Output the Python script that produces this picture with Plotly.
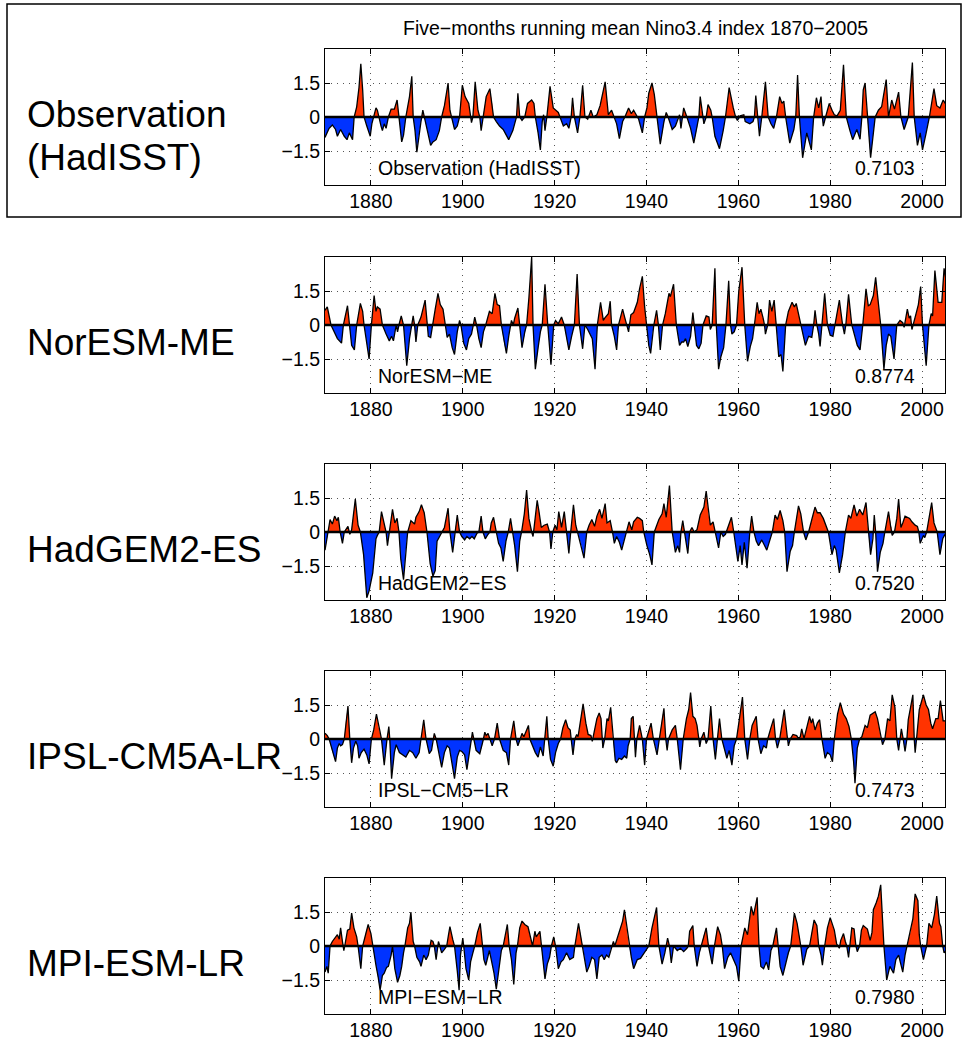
import plotly.graph_objects as go

# Five-month running mean Nino3.4 index, 1870-2005: (year, value) knots per dataset
hadisst = [
    (1870.0, -0.9), (1870.9, -0.5), (1871.6, -0.35), (1872.3, -0.55), (1872.7, -0.85), (1873.4, -0.55),
    (1874.2, -0.85), (1874.8, -1.0), (1875.3, -0.7), (1876.0, -1.0), (1876.35, 0), (1876.9, 0.45),
    (1877.4, 1.3), (1877.8, 2.35), (1878.2, 1.2), (1878.5, 0), (1879.1, -0.4), (1879.4, -0.55),
    (1879.85, -0.85), (1880.2, -0.3), (1880.6, 0), (1881.1, 0.4), (1881.4, 0.3), (1881.7, 0),
    (1882.2, -0.4), (1882.5, -0.6), (1882.9, -0.3), (1883.3, -0.5), (1883.8, 0), (1884.4, 0.35),
    (1885.1, 0.35), (1885.7, 0.75), (1886.1, 0), (1886.7, -1.1), (1887.1, -0.8), (1887.6, 0),
    (1888.4, 0.9), (1888.9, 1.8), (1889.2, 0), (1889.6, -0.6), (1890.0, -1.55), (1890.4, -0.85),
    (1890.9, -0.2), (1891.3, 0.3), (1891.6, 0), (1892.4, -0.7), (1893.0, -1.25), (1893.5, -1.1),
    (1894.2, -1.0), (1894.9, -0.6), (1895.4, 0), (1896.0, 0.5), (1896.8, 1.5), (1897.2, 0.3),
    (1897.5, 0), (1898.2, -0.55), (1898.8, -0.4), (1899.3, 0), (1899.9, 1.4), (1900.5, 0.9),
    (1901.3, 0.6), (1901.9, -0.25), (1902.2, 0), (1902.7, 1.55), (1903.3, 0.3), (1903.7, 0),
    (1904.0, -0.6), (1904.4, 0), (1905.1, 0.9), (1905.9, 1.25), (1906.4, 0.6), (1906.7, 0),
    (1907.3, -0.2), (1908.0, -0.4), (1908.8, -0.55), (1909.5, -0.8), (1910.0, -1.0), (1910.9, -0.6),
    (1911.7, 0), (1912.0, 1.05), (1912.4, 0), (1912.9, -0.15), (1913.5, 0), (1914.1, 0.6),
    (1915.0, 0.75), (1915.5, 0.6), (1915.8, 0), (1916.4, -0.7), (1916.9, -1.45), (1917.3, -0.2),
    (1917.6, 0.1), (1917.9, -0.6), (1918.3, 0), (1919.0, 1.35), (1919.7, 0.4), (1920.8, 0.2),
    (1921.2, 0), (1921.9, -0.4), (1922.6, -0.3), (1923.1, -0.5), (1923.6, 0), (1923.9, 0.85),
    (1924.3, 0), (1925.0, -0.7), (1925.5, 0), (1926.1, 1.4), (1926.6, 0), (1927.2, -0.1),
    (1927.9, 0.3), (1928.4, 0), (1929.2, 0.1), (1929.9, 0.5), (1931.0, 1.55), (1931.7, 0.1),
    (1932.4, 0.3), (1933.0, 0), (1933.5, -0.3), (1934.1, -0.95), (1934.8, -0.2), (1935.3, 0),
    (1936.1, 0.4), (1936.7, 0.15), (1937.2, 0.3), (1938.3, -0.1), (1939.1, -0.7), (1939.6, 0),
    (1940.1, 0.4), (1940.5, 1.05), (1941.2, 1.5), (1941.7, 1.0), (1942.3, 0), (1943.0, -1.2),
    (1943.8, -0.2), (1944.3, 0.2), (1944.7, 0), (1945.6, -0.55), (1946.3, -0.4), (1946.9, 0),
    (1947.2, 0.1), (1947.5, -0.5), (1948.1, 0.4), (1948.8, 0), (1949.6, -0.5), (1950.3, -1.15),
    (1951.0, -0.5), (1951.4, 0), (1951.7, 0.9), (1952.2, 0), (1952.5, -0.3), (1953.0, 0),
    (1953.4, 0.55), (1954.0, 0.3), (1954.3, 0), (1954.9, -0.85), (1955.9, -1.4), (1956.7, -0.6),
    (1957.2, 0), (1958.0, 1.3), (1958.6, 0.6), (1958.9, 0.4), (1959.4, 0), (1959.8, -0.15),
    (1960.4, 0.05), (1961.2, 0.1), (1961.5, -0.2), (1962.5, -0.3), (1963.2, -0.2), (1963.5, 0),
    (1963.8, 0.95), (1964.3, 0), (1964.6, -0.85), (1965.1, 0), (1965.9, 1.55), (1966.5, 0),
    (1967.1, -0.3), (1967.7, -0.5), (1968.3, 0), (1969.0, 0.9), (1969.5, 0.6), (1969.9, 0.7),
    (1970.3, 0), (1971.2, -1.15), (1972.1, -0.55), (1972.5, 0), (1972.9, 1.85), (1973.3, 0),
    (1974.0, -1.8), (1974.9, -0.7), (1975.9, -1.45), (1976.4, 0), (1977.0, 0.85), (1977.5, 0.4),
    (1978.0, 0.9), (1978.3, 0), (1978.5, -0.4), (1979.0, 0), (1979.8, 0.6), (1980.4, 0.3),
    (1980.9, 0.1), (1981.5, 0.05), (1982.2, 0.3), (1982.9, 2.3), (1983.5, 0), (1984.3, -0.6),
    (1984.9, -1.0), (1985.8, -0.55), (1986.5, -0.98), (1986.9, 0), (1987.2, 1.2), (1987.6, 1.5),
    (1988.1, 0), (1988.8, -1.8), (1989.8, 0), (1990.5, 0.3), (1991.2, 0.45), (1992.2, 1.65),
    (1992.7, 0), (1993.4, 0.75), (1994.0, 0.35), (1994.9, 1.1), (1995.4, 0), (1996.1, -0.55),
    (1997.0, 0), (1997.9, 2.4), (1998.3, 0), (1999.0, -1.25), (1999.6, -0.7), (2000.1, -1.45),
    (2000.9, -0.7), (2001.6, 0), (2002.6, 1.25), (2003.2, 0.5), (2003.9, 0.4), (2004.6, 0.75),
    (2005.2, 0.55),
]

noresm = [
    (1870.0, 0.65), (1870.5, 0.8), (1871.3, 0), (1872.0, -0.3), (1872.7, -0.6), (1873.6, -0.8),
    (1874.0, 0), (1874.9, 0.85), (1875.3, 0), (1875.8, -0.9), (1876.4, -1.1), (1876.9, 0),
    (1877.7, 0.95), (1878.2, 0.6), (1878.5, 0), (1879.1, -0.8), (1879.6, -1.5), (1880.1, 0),
    (1880.7, 1.3), (1881.1, 0.6), (1881.4, 0.8), (1882.0, 0.7), (1882.5, 0), (1883.3, -0.4),
    (1884.0, -0.7), (1884.5, -0.5), (1884.9, -0.7), (1885.5, 0), (1885.8, -0.3), (1886.1, 0),
    (1886.6, 0.4), (1887.1, 0), (1887.8, -1.8), (1888.4, -0.6), (1888.9, 0), (1889.2, 0.4),
    (1889.5, 0), (1889.8, -0.75), (1890.2, 0), (1890.9, 0.35), (1891.8, 1.1), (1892.2, 0.2),
    (1892.5, -0.5), (1893.0, -0.55), (1893.4, 0), (1894.0, 0.7), (1894.6, 1.4), (1895.1, 0.9),
    (1895.7, 0.7), (1896.2, 0), (1896.6, -0.55), (1897.1, -0.4), (1897.7, -1.0), (1898.2, -1.3),
    (1898.8, -0.3), (1899.3, 0.2), (1899.6, 0), (1900.2, -0.8), (1900.8, -1.1), (1901.3, -0.6),
    (1901.9, -0.4), (1902.3, 0), (1902.6, 0.35), (1903.0, 0), (1903.5, -0.6), (1904.0, -1.0),
    (1904.5, -0.3), (1905.0, 0), (1905.5, 0.4), (1905.8, 0.6), (1906.4, 0.5), (1907.0, 1.4),
    (1907.5, 0.9), (1908.0, 0.85), (1908.4, 0), (1909.0, -0.8), (1909.5, -1.25), (1910.0, -0.5),
    (1910.4, 0), (1910.6, 0.2), (1911.0, 0), (1911.3, 0.3), (1912.0, 0.75), (1912.4, 0),
    (1912.9, -1.0), (1913.5, -0.3), (1913.9, 0), (1914.4, 1.2), (1915.0, 3.0), (1915.3, 0),
    (1915.8, -1.95), (1916.4, -1.0), (1916.9, -0.3), (1917.3, 0), (1917.9, 1.8), (1918.5, 0),
    (1919.2, -1.75), (1919.8, 0), (1920.2, 0.2), (1920.8, 0.05), (1921.5, 0.35), (1922.1, 0),
    (1922.6, -0.6), (1923.1, -1.1), (1923.7, -0.5), (1924.3, 0), (1924.9, 2.25), (1925.4, 0),
    (1926.1, -1.05), (1926.6, 0), (1927.2, -0.2), (1927.7, -0.4), (1928.2, -0.6), (1928.8, -1.95),
    (1929.3, 0), (1930.0, 1.0), (1930.6, 0.2), (1930.9, 0.3), (1931.7, 0.5), (1932.1, 1.05),
    (1932.4, 0), (1933.0, -0.5), (1933.5, -1.1), (1933.9, 0), (1934.8, 0.7), (1935.3, 0.3),
    (1935.7, 0), (1936.1, -0.3), (1936.3, 0), (1936.6, 0.45), (1937.2, 0.55), (1938.0, 1.0),
    (1938.5, 1.6), (1939.1, 2.15), (1939.6, 0.8), (1940.0, 0), (1940.5, -0.9), (1940.9, -1.25),
    (1941.3, -0.4), (1941.6, 0), (1942.2, 0.65), (1942.6, 0), (1943.0, -1.1), (1943.5, 0),
    (1944.1, 0.5), (1944.9, 1.4), (1945.2, 1.25), (1945.9, 1.8), (1946.5, 0), (1947.2, -0.9),
    (1947.7, -0.75), (1948.1, -0.75), (1948.5, -0.6), (1949.0, -0.95), (1949.6, -0.5), (1949.9, 0),
    (1950.1, 0.55), (1950.4, 0), (1950.9, -0.9), (1951.4, -1.05), (1951.9, -0.8), (1952.3, 0),
    (1953.0, 0.4), (1953.6, 0.35), (1953.9, -0.2), (1954.3, 0), (1954.9, 2.5), (1955.2, 0),
    (1955.7, -1.95), (1956.2, -1.4), (1956.8, -1.0), (1957.3, 0), (1957.9, 1.95), (1958.3, 0),
    (1958.6, -0.4), (1959.1, -0.3), (1959.6, 0), (1960.1, 1.5), (1960.8, 2.55), (1961.4, 0),
    (1962.0, -1.6), (1962.6, -0.95), (1963.1, -0.6), (1963.5, 0), (1964.1, 1.0), (1964.5, 0.5),
    (1964.9, 0.7), (1965.4, 0.3), (1965.7, 0), (1965.9, -0.4), (1966.4, 0), (1966.8, 1.1),
    (1967.3, 0.6), (1967.8, 1.1), (1968.3, 0), (1968.8, -1.4), (1969.3, -1.3), (1969.7, -2.05),
    (1970.3, 0), (1970.9, 0.6), (1971.7, 1.0), (1972.2, 0.8), (1972.6, 0.95), (1973.1, 0.5),
    (1973.6, 0), (1974.6, -0.9), (1975.3, -0.5), (1976.0, -0.55), (1976.4, 0), (1976.7, 0.65),
    (1977.1, 0), (1977.5, -0.4), (1977.8, -0.95), (1978.2, 0), (1978.8, 1.4), (1979.4, 0),
    (1980.0, -0.45), (1980.6, -0.5), (1981.0, 0), (1982.0, 1.1), (1982.7, 0), (1983.1, -0.4),
    (1983.4, 0), (1984.0, 1.35), (1984.7, 0), (1985.4, -0.5), (1985.9, -0.9), (1986.5, -1.1),
    (1987.1, 0), (1987.8, 1.6), (1988.3, 0.85), (1988.7, 0.9), (1989.4, 1.3), (1989.9, 2.1),
    (1990.5, 0.8), (1991.0, 0), (1991.7, -1.95), (1992.2, -0.9), (1992.7, -0.4), (1993.2, -0.5),
    (1993.9, -1.5), (1994.5, 0), (1995.2, 0.2), (1995.8, 0.1), (1996.1, -0.1), (1996.5, 0.3),
    (1996.8, 0.7), (1997.2, 0.3), (1997.5, 0.4), (1997.8, -0.2), (1998.1, 0), (1998.7, 0.5),
    (1999.2, 0.9), (1999.7, 1.7), (2000.1, 0), (2000.9, -1.8), (2001.5, 0), (2002.0, 0.5),
    (2002.3, 0.4), (2002.8, 2.4), (2003.5, 1.0), (2004.3, 1.0), (2004.8, 2.5), (2005.2, 2.0),
]

hadgem = [
    (1870.0, -0.8), (1870.4, -0.3), (1870.7, 0), (1871.1, 0.55), (1871.6, 0.35), (1872.1, 0.7),
    (1872.6, 0.5), (1872.9, 0.65), (1873.3, 0), (1873.8, -0.5), (1874.2, 0), (1874.6, 0.15),
    (1875.0, 0.25), (1875.4, -0.1), (1875.8, 0.1), (1876.6, 1.45), (1877.2, 0.3), (1877.7, 0),
    (1878.4, -1.0), (1879.1, -2.9), (1879.6, -2.6), (1880.4, -1.8), (1880.7, -1.1), (1881.1, -0.3),
    (1881.4, -0.15), (1881.8, 0), (1882.3, 0.9), (1882.9, 0.4), (1883.3, 0), (1883.6, -0.6),
    (1884.0, 0), (1884.7, 1.0), (1885.2, 0.4), (1885.7, 0.6), (1886.1, 0), (1886.5, -1.2),
    (1887.1, -2.1), (1887.5, -1.0), (1888.0, 0), (1888.7, 0.5), (1889.5, 0.35), (1889.8, 0.65),
    (1890.5, 0.9), (1891.0, 1.2), (1891.6, 0.85), (1892.2, 0), (1892.9, -1.4), (1893.5, -1.95),
    (1894.0, -1.7), (1894.4, -0.4), (1894.9, -0.2), (1895.4, 0), (1896.0, 0.2), (1896.8, 1.05),
    (1897.2, 0), (1897.8, -0.9), (1898.3, 0), (1898.8, 0.75), (1899.3, 0), (1899.8, -0.2),
    (1900.4, -0.35), (1900.9, -0.2), (1901.5, -0.3), (1902.0, -0.2), (1902.5, -0.3), (1903.1, -0.05),
    (1903.5, 0), (1904.0, 0.7), (1904.4, 0), (1904.9, -0.3), (1905.5, -0.1), (1905.9, 0),
    (1906.2, 0.4), (1906.7, 0.65), (1907.3, 0), (1907.8, -0.5), (1908.3, -0.7), (1908.8, -1.3),
    (1909.4, -0.4), (1909.9, 0), (1910.4, 0.6), (1910.9, 0), (1911.3, -0.6), (1911.9, -1.75),
    (1912.4, -0.4), (1912.8, 0), (1913.4, 0.8), (1913.9, 1.85), (1914.4, 0.6), (1915.0, 0),
    (1915.3, -0.2), (1915.7, 0.5), (1916.2, 1.4), (1916.6, 0.9), (1917.1, 0.2), (1917.7, 0.3),
    (1918.4, 0.35), (1918.9, 0), (1919.2, -0.75), (1919.6, 0), (1920.1, 0.3), (1920.5, 0.1),
    (1920.9, 0.9), (1921.5, 0.2), (1922.1, 0.9), (1922.6, 0), (1923.1, -0.95), (1923.5, 0),
    (1924.1, 1.2), (1924.6, 0.3), (1925.0, 0), (1925.8, -0.6), (1926.4, -1.15), (1927.0, 0),
    (1927.5, 0.3), (1928.1, 0.55), (1928.7, 0.25), (1929.2, 0.7), (1929.8, 1.0), (1930.3, 0.6),
    (1931.0, 1.25), (1931.4, 0.4), (1932.1, 0.5), (1932.6, 0), (1933.0, -0.5), (1933.5, -0.2),
    (1934.1, -0.45), (1934.6, -0.8), (1935.2, -0.3), (1935.7, 0), (1936.2, 0.45), (1936.8, 0.1),
    (1937.2, 0.45), (1938.0, 0.65), (1938.5, 0.6), (1939.1, 0.5), (1939.4, 0), (1940.1, -0.6),
    (1940.7, -1.0), (1941.2, -1.45), (1941.7, 0), (1942.7, 0.55), (1943.4, 0.8), (1943.8, 1.25),
    (1944.3, 0.65), (1945.0, 2.05), (1945.4, 0.5), (1945.6, 0), (1946.3, -0.9), (1946.8, -0.6),
    (1947.2, -0.9), (1947.5, 0), (1947.9, 0.5), (1948.3, 0), (1949.0, -0.95), (1949.4, 0),
    (1949.9, 0.2), (1950.4, 0), (1951.0, 0.1), (1951.7, 0.75), (1952.5, 1.1), (1953.0, 1.8),
    (1953.5, 0.8), (1953.9, 0.3), (1954.5, 0.45), (1955.0, 0), (1955.7, -0.7), (1956.2, 0),
    (1956.7, -0.2), (1957.2, -0.1), (1957.7, 0.2), (1958.5, 0.65), (1959.0, 0), (1959.9, -1.3),
    (1960.4, -0.6), (1960.8, -1.45), (1961.3, -0.45), (1961.9, -1.6), (1962.5, 0), (1962.9, 0.7),
    (1963.4, 0), (1963.9, -0.4), (1964.4, -0.6), (1965.1, -0.35), (1965.6, -0.55), (1966.2, -0.8),
    (1966.8, -0.4), (1967.4, 0), (1968.0, 0.75), (1968.5, 0.55), (1969.1, 0.95), (1969.7, 0.5),
    (1970.1, 0), (1970.6, -1.75), (1971.3, -0.85), (1971.8, -0.6), (1972.2, 0), (1972.8, 0.8),
    (1973.1, 1.15), (1973.6, 0.8), (1974.2, 0), (1974.7, -0.35), (1975.3, 0), (1976.0, 0.55),
    (1976.7, 1.1), (1977.2, 0.85), (1977.8, 0.85), (1978.5, 0.6), (1979.1, 0.3), (1979.6, 0),
    (1980.4, -1.0), (1980.9, -0.6), (1981.3, -0.8), (1982.0, -1.8), (1982.7, -1.0), (1983.3, 0),
    (1984.0, 0.75), (1984.5, 0.6), (1985.2, 1.2), (1985.8, 0.7), (1986.4, 1.0), (1987.1, 0.75),
    (1987.8, 1.3), (1988.3, 0), (1988.8, -1.0), (1989.3, -0.3), (1989.6, 0.75), (1989.9, 0),
    (1990.3, -1.75), (1990.9, -0.9), (1991.5, -0.5), (1991.9, 0), (1992.7, 0.9), (1993.2, 0.2),
    (1993.5, -0.15), (1994.0, 0), (1994.5, 0.6), (1994.9, 1.45), (1995.4, 0.2), (1995.8, 0.4),
    (1996.3, 0.7), (1997.3, 0.6), (1997.8, 0.45), (1998.5, 0.3), (1999.0, 0.25), (1999.3, 0),
    (1999.6, -0.5), (2000.3, -0.15), (2000.6, -0.25), (2001.0, 0), (2001.6, 0.7), (2002.1, 1.3),
    (2002.6, 0.4), (2003.0, 0.1), (2003.3, 0), (2003.9, -1.0), (2004.5, -0.3), (2005.0, -0.1),
]

ipsl = [
    (1870.0, 0.25), (1870.5, 0.15), (1870.9, 0), (1871.6, -0.55), (1872.3, -1.0), (1872.7, -0.4),
    (1873.1, -0.2), (1873.4, -0.3), (1873.8, -0.25), (1874.2, 0), (1874.6, 0.9), (1875.0, 1.45),
    (1875.4, 0), (1875.8, -1.05), (1876.2, -0.4), (1876.7, -0.1), (1877.1, -0.3), (1877.4, -0.85),
    (1877.9, -0.6), (1878.5, -0.45), (1879.1, -0.7), (1879.6, -1.1), (1880.1, 0), (1880.6, 0.4),
    (1881.2, 1.1), (1881.7, 0.5), (1882.0, 0.3), (1882.3, 0), (1882.9, -1.15), (1883.5, 0),
    (1883.9, 0.55), (1884.1, 0), (1884.5, -1.75), (1885.1, -0.6), (1885.5, -0.25), (1886.2, -0.6),
    (1886.9, -0.7), (1887.6, -0.8), (1888.4, -0.5), (1889.1, -0.6), (1889.8, -0.85), (1890.5, -0.6),
    (1890.9, 0), (1891.5, 0.85), (1892.0, 0), (1892.7, -0.65), (1893.2, -0.5), (1893.5, 0),
    (1893.8, 0.25), (1894.2, 0), (1894.9, -0.7), (1895.4, -1.25), (1896.0, -0.6), (1896.6, -0.3),
    (1897.1, -0.4), (1897.6, -1.1), (1898.2, -1.75), (1898.8, -0.8), (1899.3, -0.5), (1899.8, -0.55),
    (1900.4, -0.7), (1900.9, -1.35), (1901.5, -0.5), (1901.9, 0), (1902.1, 0.3), (1902.4, 0),
    (1902.9, -0.5), (1903.7, -0.65), (1904.2, -0.3), (1904.5, 0), (1904.8, 0.3), (1905.1, 0.15),
    (1905.5, 0.25), (1905.9, 0), (1906.4, -0.3), (1906.9, 0), (1907.5, 0.7), (1908.0, 0),
    (1908.8, -0.5), (1909.5, -0.6), (1910.0, -1.15), (1910.4, 0), (1911.1, 0.8), (1911.6, 0),
    (1912.0, -0.3), (1912.5, 0), (1912.9, 0.25), (1913.3, 0.1), (1913.7, 0.3), (1914.3, 0.6),
    (1914.6, 0), (1915.2, -0.3), (1915.8, -0.6), (1916.4, -0.8), (1916.9, -0.35), (1917.5, -0.75),
    (1917.8, 0), (1918.3, 1.0), (1918.6, 0), (1919.1, -0.9), (1919.7, -1.2), (1920.2, -0.6),
    (1920.8, -0.2), (1921.3, 0), (1921.8, 0.5), (1922.4, 0.85), (1922.9, 0.5), (1923.4, 0.4),
    (1923.6, 0), (1924.0, -0.7), (1924.4, 0), (1924.8, 0.2), (1925.1, 0.1), (1925.7, 0.9),
    (1926.2, 1.55), (1926.8, 0.7), (1927.3, 0.2), (1927.9, 0.15), (1928.2, -0.1), (1928.6, 0.3),
    (1929.2, 0.9), (1929.7, 1.15), (1930.1, 0.9), (1930.5, -0.4), (1930.9, 0), (1931.4, 0.9),
    (1931.7, 0.8), (1932.2, 1.4), (1932.7, 0), (1933.2, -0.95), (1933.5, -1.05), (1934.0, -0.85),
    (1934.6, -0.9), (1935.2, -0.75), (1935.7, -0.85), (1936.0, -0.3), (1936.45, 0), (1936.7, 0.9),
    (1937.1, 1.0), (1937.4, 0), (1937.6, -0.8), (1937.9, 0), (1938.5, 0.6), (1939.1, 0),
    (1939.6, -1.15), (1940.0, 0), (1940.5, 0.4), (1941.0, 0.7), (1941.5, 0), (1942.0, -0.4),
    (1942.3, -0.7), (1942.8, 0), (1943.4, 0.9), (1943.8, 1.35), (1944.2, 0), (1944.5, -0.5),
    (1944.8, 0), (1945.6, 0.4), (1946.3, 0.6), (1946.7, 0), (1947.4, -1.35), (1948.0, 0),
    (1948.7, 0.9), (1949.2, 1.3), (1949.6, 2.05), (1950.1, 1.0), (1950.6, 0.9), (1951.0, 0.6),
    (1951.4, 0), (1951.6, -0.35), (1951.9, 0), (1952.5, 0.3), (1953.0, -0.2), (1953.4, 0),
    (1954.0, 1.45), (1954.5, 0), (1955.0, -0.9), (1955.4, 0), (1955.9, 0.9), (1956.4, 0),
    (1956.9, -0.4), (1957.5, -0.85), (1958.0, -0.5), (1958.6, -1.15), (1959.1, -0.3), (1959.6, 0),
    (1960.1, 0.7), (1960.9, 1.85), (1961.4, 0), (1962.0, -0.9), (1962.5, 0), (1963.0, 0.6),
    (1963.9, 1.0), (1964.3, 0), (1964.9, -0.65), (1965.5, -0.3), (1966.1, -0.4), (1966.4, 0),
    (1967.1, 0.5), (1967.7, 0.9), (1968.1, 0), (1968.5, -0.4), (1969.0, 0), (1969.5, 0.6),
    (1970.0, 1.3), (1970.6, 0.2), (1970.9, -0.3), (1971.3, 0), (1971.9, 0.2), (1972.7, 0.15),
    (1973.1, 0.02), (1973.5, 0.1), (1973.8, 0.45), (1974.3, 0.02), (1974.9, 0.5), (1975.5, 1.0),
    (1975.9, 0.7), (1976.2, 0.9), (1976.7, 0.4), (1977.2, 0.7), (1977.7, 0.85), (1978.2, 0),
    (1978.9, -0.85), (1979.4, -0.6), (1980.0, -0.7), (1980.5, -1.0), (1980.9, 0), (1981.6, 1.1),
    (1982.2, 1.6), (1982.9, 1.1), (1983.5, 0.9), (1984.1, 0.55), (1984.6, 0), (1985.1, -1.0),
    (1985.4, -1.95), (1985.9, -0.4), (1986.4, 0), (1986.9, 0.1), (1987.6, 0.6), (1988.1, 0.5),
    (1988.7, 1.05), (1989.8, 1.2), (1990.3, 0.9), (1990.9, 0.2), (1991.1, 0), (1991.4, -0.25),
    (1991.9, 0), (1992.5, 0.9), (1993.0, 0.8), (1993.5, 1.95), (1994.1, 1.4), (1994.5, 0),
    (1994.9, -0.5), (1995.2, 0), (1995.5, 0.45), (1995.9, 0), (1996.3, -0.55), (1996.7, 0),
    (1997.0, 0.85), (1997.5, 1.4), (1998.0, 1.95), (1998.3, 0), (1998.5, -0.6), (1998.8, 0),
    (1999.4, 1.3), (2000.3, 1.95), (2000.9, 1.5), (2001.4, 1.3), (2001.9, 0.7), (2002.3, 0.45),
    (2003.0, 0.9), (2003.5, 0.9), (2004.0, 1.7), (2004.6, 0.8), (2005.0, 0.8),
]

mpi = [
    (1870.0, -1.15), (1870.4, -0.9), (1870.7, -1.2), (1871.1, 0), (1871.6, 0.2), (1872.0, 0.3),
    (1872.3, 0.4), (1872.7, 0.5), (1873.1, 0.3), (1873.4, 0.8), (1873.8, 0.2), (1874.1, -0.2),
    (1874.3, 0), (1874.9, 0.7), (1875.4, 0.75), (1875.8, 1.45), (1876.3, 0.8), (1876.9, 0.4),
    (1877.2, 0), (1877.8, -1.0), (1878.2, 0), (1878.9, 0.6), (1879.4, 0.95), (1880.0, 0.55),
    (1880.4, 0), (1881.1, -0.85), (1881.6, -1.4), (1882.0, -1.95), (1882.5, -1.3), (1882.9, -1.2),
    (1883.4, -0.95), (1883.8, -0.9), (1884.4, -0.4), (1884.7, 0), (1885.2, -1.0), (1885.8, -1.6),
    (1886.3, -1.3), (1886.7, -0.9), (1887.1, -0.3), (1887.4, 0), (1888.0, 0.8), (1888.4, 1.0),
    (1888.7, 1.5), (1889.2, 0.2), (1889.5, 0), (1890.0, -0.5), (1890.6, -0.7), (1890.9, -0.9),
    (1891.5, -0.4), (1892.0, -0.6), (1892.5, -0.4), (1892.8, 0), (1893.1, 0.25), (1893.5, 0.2),
    (1893.8, 0), (1894.2, -0.6), (1894.5, 0), (1894.7, 0.2), (1895.0, 0), (1895.4, -0.3),
    (1896.0, -0.15), (1896.5, 0), (1896.9, 0.5), (1897.2, 0.85), (1897.8, 0.3), (1898.2, 0),
    (1898.8, -1.1), (1899.2, -1.95), (1899.5, -0.4), (1899.8, 0), (1900.0, 0.35), (1900.2, 0),
    (1900.7, -1.0), (1901.3, -1.5), (1901.7, -0.7), (1902.2, -0.3), (1902.6, 0), (1903.2, 0.6),
    (1903.8, 1.0), (1904.3, 0), (1904.6, -0.6), (1905.0, -0.85), (1905.5, -0.4), (1905.8, -0.2),
    (1906.2, -0.6), (1906.8, -1.2), (1907.3, -1.9), (1907.8, -1.0), (1908.4, -0.2), (1908.8, 0),
    (1909.3, 0.5), (1909.7, 0.95), (1910.1, 0), (1910.6, -0.6), (1911.1, -1.7), (1911.6, -0.3),
    (1911.9, 0), (1912.4, 0.8), (1912.9, 1.1), (1913.5, 0.95), (1914.2, 0.85), (1914.8, 0.3),
    (1915.2, 0), (1915.7, 0.65), (1916.0, 0.4), (1916.8, 0.65), (1917.1, 0), (1917.9, -1.45),
    (1918.4, -0.8), (1918.9, -0.5), (1919.3, 0), (1919.8, 0.4), (1920.2, 0), (1920.8, -1.0),
    (1921.4, -0.7), (1921.9, -0.6), (1922.6, -0.3), (1923.3, -0.6), (1924.1, -0.5), (1924.4, 0),
    (1925.2, 1.0), (1925.8, 0.3), (1926.1, 0), (1927.0, -1.15), (1927.5, -0.9), (1928.1, -0.5),
    (1928.7, -0.6), (1929.2, -1.45), (1929.7, -0.5), (1930.3, -0.4), (1930.8, -0.6), (1931.3, -0.4),
    (1931.8, -0.5), (1932.4, 0), (1932.8, 0.2), (1933.1, 0), (1933.6, 0.3), (1934.2, 0.65),
    (1934.8, 1.1), (1935.2, 1.6), (1935.7, 0.9), (1936.2, 0), (1936.7, -0.5), (1937.2, -1.0),
    (1938.0, -0.6), (1938.7, -0.55), (1939.4, -0.35), (1940.1, -0.1), (1940.5, 0), (1941.2, 0.8),
    (1942.2, 1.7), (1942.7, 0), (1943.4, -0.8), (1944.0, -0.3), (1944.3, 0), (1944.6, 0.35),
    (1945.0, 0), (1945.4, -0.75), (1945.9, 0), (1946.7, -0.2), (1947.4, -0.1), (1948.1, -0.25),
    (1948.8, -0.1), (1949.1, 0), (1949.4, 0.65), (1950.1, 0.9), (1950.4, 0), (1951.0, -0.9),
    (1951.5, -0.3), (1951.9, 0), (1952.5, 0.5), (1953.0, 0.8), (1953.5, 0), (1954.3, -0.8),
    (1954.8, 0), (1955.2, 0.6), (1955.5, 0.85), (1956.1, 0.5), (1956.5, 0), (1957.0, -1.0),
    (1957.7, -0.5), (1958.3, -0.3), (1959.0, -0.6), (1959.6, -0.9), (1960.1, -1.55), (1960.6, 0),
    (1961.4, 0.8), (1962.0, 0.5), (1962.8, 1.75), (1963.3, 1.35), (1964.1, 2.15), (1964.5, 0),
    (1964.9, -0.9), (1965.5, -1.0), (1966.1, -0.7), (1966.6, -1.05), (1967.1, -0.2), (1967.5, 0),
    (1968.3, 0.8), (1968.6, 0), (1969.1, -0.9), (1969.7, -1.3), (1970.4, -0.7), (1970.9, -0.3),
    (1971.4, 0), (1972.2, 1.45), (1972.8, 1.0), (1973.3, 0.4), (1973.6, 0), (1974.1, -0.85),
    (1974.6, -0.4), (1974.9, -0.15), (1975.5, 0), (1976.0, 0.6), (1976.5, 1.15), (1977.1, 0.9),
    (1977.5, 0), (1978.0, -0.4), (1978.3, -0.85), (1978.8, 0), (1979.4, 0.8), (1980.0, 1.25),
    (1980.5, 0.9), (1980.9, 0.7), (1981.4, 0.1), (1982.0, -0.1), (1982.3, 0.25), (1982.9, 0.55),
    (1983.3, 0.2), (1983.6, 0), (1984.0, -0.5), (1984.3, 0), (1984.7, 0.8), (1985.2, 0.75),
    (1985.6, 0), (1985.9, -0.25), (1986.4, 0), (1986.8, 0.7), (1987.2, 0.9), (1988.1, 0.75),
    (1988.7, 0.25), (1989.1, 0.6), (1989.4, 1.6), (1990.0, 1.9), (1990.5, 2.2), (1991.0, 2.7),
    (1991.4, 0.8), (1991.7, 0), (1992.3, -1.5), (1992.7, -1.1), (1993.0, -0.9), (1993.8, -1.2),
    (1994.3, -0.6), (1994.9, -0.4), (1995.4, -0.9), (1995.8, -1.15), (1996.3, -0.4), (1996.7, 0),
    (1997.4, 0.55), (1998.0, 1.2), (1998.5, 2.3), (1999.1, 2.0), (1999.4, 0.5), (1999.7, 0),
    (2000.3, -0.6), (2000.6, -0.3), (2001.0, 0), (2001.5, 1.0), (2002.1, 0.8), (2002.7, 1.4),
    (2003.2, 2.2), (2003.8, 1.0), (2004.1, 0.85), (2004.5, 0), (2004.8, -0.3), (2005.2, -0.2),
]

series_labels = ["Observation (HadISST)", "NorESM−ME", "HadGEM2−ES", "IPSL−CM5−LR", "MPI−ESM−LR"]
side_labels = [["Observation", "(HadISST)"], ["NorESM-ME"], ["HadGEM2-ES"], ["IPSL-CM5A-LR"], ["MPI-ESM-LR"]]
scores = ["0.7103", "0.8774", "0.7520", "0.7473", "0.7980"]
all_series = [hadisst, noresm, hadgem, ipsl, mpi]

x_ticks = [1880, 1900, 1920, 1940, 1960, 1980, 2000]
y_ticks = [-1.5, 0, 1.5]
y_tick_text = ["−1.5", "0", "1.5"]
title_text = "Five−months running mean Nino3.4 index 1870−2005"

# ---- layout geometry (pixels) ----
W, H = 963, 1041
AX_LEFT, AX_RIGHT = 325, 945
PANEL_TOPS = [49, 257, 464, 671, 878]
PANEL_H = 136
FONT = "Liberation Sans, Arial, Helvetica, sans-serif"
SMALL = 19.5
BIG = 37
RED = "#ff3300"
BLUE = "#0033ff"


def px_x(p):
    return p / W


def px_y(p):
    return 1 - p / H


def split_sign(knots):
    """Return x, positive part and negative part with zero crossings inserted."""
    knots = sorted(knots)
    xs, ys = [], []
    for i, (t, v) in enumerate(knots):
        xs.append(t)
        ys.append(v)
        if i + 1 < len(knots):
            t2, v2 = knots[i + 1]
            if v * v2 < 0:
                tc = t + (t2 - t) * v / (v - v2)
                xs.append(tc)
                ys.append(0.0)
    pos = [max(v, 0.0) for v in ys]
    neg = [min(v, 0.0) for v in ys]
    return xs, pos, neg, [k[0] for k in knots], [k[1] for k in knots]


fig = go.Figure()
annotations = []
shapes = []

for i, knots in enumerate(all_series):
    n = "" if i == 0 else str(i + 1)
    xa, ya = "x" + n, "y" + n
    xs, pos, neg, t, v = split_sign(knots)
    fig.add_trace(go.Scatter(x=xs, y=pos, mode="lines", fill="tozeroy", fillcolor=RED,
                             line=dict(width=0, color=RED), xaxis=xa, yaxis=ya,
                             hoverinfo="skip", showlegend=False))
    fig.add_trace(go.Scatter(x=xs, y=neg, mode="lines", fill="tozeroy", fillcolor=BLUE,
                             line=dict(width=0, color=BLUE), xaxis=xa, yaxis=ya,
                             hoverinfo="skip", showlegend=False))
    fig.add_trace(go.Scatter(x=t, y=v, mode="lines", line=dict(width=1.3, color="black"),
                             xaxis=xa, yaxis=ya, showlegend=False))

    top = PANEL_TOPS[i]
    dom_y = [px_y(top + PANEL_H), px_y(top)]
    axis_common = dict(showline=True, linecolor="black", linewidth=1.2, mirror="allticks",
                       ticks="inside", ticklen=5, tickcolor="black", showgrid=True,
                       gridcolor="#555555", griddash="1px,5px", gridwidth=1, zeroline=False,
                       tickfont=dict(family=FONT, size=SMALL, color="black"))
    fig.update_layout(**{
        "xaxis" + n: dict(domain=[px_x(AX_LEFT), px_x(AX_RIGHT)], range=[1870, 2005],
                          tickvals=x_ticks, anchor=ya, ticklabelstandoff=-2, **axis_common),
        "yaxis" + n: dict(domain=dom_y, range=[-3, 3], tickvals=y_ticks, ticktext=y_tick_text,
                          anchor=xa, **axis_common),
    })

    # zero line over the fills
    shapes.append(dict(type="line", xref=xa + " domain", yref=ya, x0=0, x1=1, y0=0, y1=0,
                       line=dict(color="black", width=2.4), layer="above"))

    # labels inside each panel
    annotations.append(dict(x=1881, y=-2.25, xref=xa, yref=ya, text=series_labels[i],
                            showarrow=False, xanchor="left", yanchor="middle",
                            font=dict(family=FONT, size=SMALL, color="black")))
    annotations.append(dict(x=1985, y=-2.25, xref=xa, yref=ya, text=scores[i],
                            showarrow=False, xanchor="left", yanchor="middle",
                            font=dict(family=FONT, size=SMALL, color="black")))

    # large row labels on the left
    zero_px = top + PANEL_H / 2
    if len(side_labels[i]) == 2:
        centers = [zero_px - 2, zero_px + 41]
    else:
        centers = [zero_px + 17]
    for txt, c in zip(side_labels[i], centers):
        annotations.append(dict(x=px_x(25), y=px_y(c), xref="paper", yref="paper", text=txt,
                                showarrow=False, xanchor="left", yanchor="middle",
                                font=dict(family=FONT, size=BIG, color="black")))

annotations.append(dict(x=px_x((AX_LEFT + AX_RIGHT) / 2), y=px_y(28), xref="paper", yref="paper",
                        text=title_text, showarrow=False, xanchor="center", yanchor="middle",
                        font=dict(family=FONT, size=SMALL, color="black")))

# frame around the observation row
shapes.append(dict(type="rect", xref="paper", yref="paper", x0=px_x(7), x1=px_x(961),
                   y0=px_y(217), y1=px_y(4), line=dict(color="black", width=1.5)))

fig.update_layout(width=W, height=H, margin=dict(l=0, r=0, t=0, b=0),
                  paper_bgcolor="white", plot_bgcolor="white",
                  annotations=annotations, shapes=shapes, showlegend=False)

fig.write_html("out.html")
